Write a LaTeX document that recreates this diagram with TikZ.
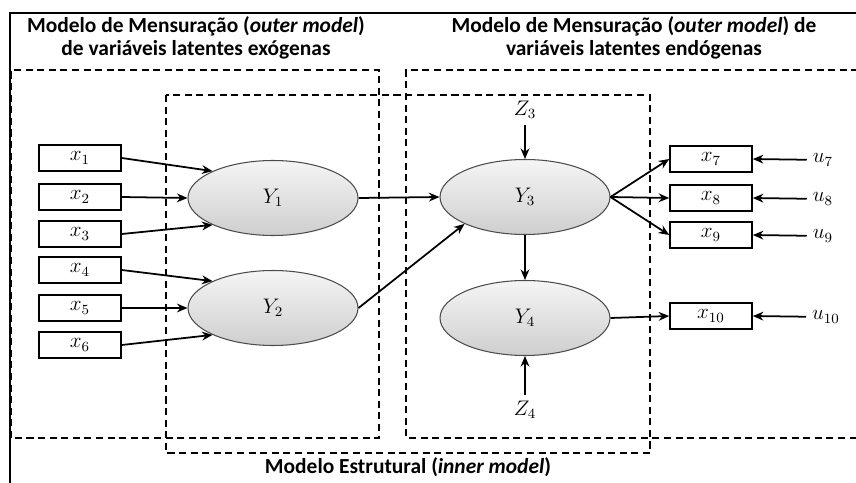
\documentclass[tikz,border=0pt]{standalone}
\usepackage[no-math]{fontspec}
\setmainfont{Carlito}
\usepackage{amsmath}
\usetikzlibrary{arrows.meta,shapes.geometric}

\tikzset{
  obs/.style={draw, line width=0.9pt, minimum width=1.64cm, minimum height=0.52cm, inner sep=0pt, font=\large},
  lat/.style={ellipse, draw=gray!60!black, line width=0.6pt, top color=gray!8, bottom color=gray!38, minimum width=3.4cm, minimum height=1.5cm, font=\large},
  seta/.style={-{Stealth[length=6pt,width=5pt]}, line width=1pt},
  caixa/.style={dash pattern=on 4pt off 2.6pt, line width=1.1pt},
  titulo/.style={font=\fontsize{12.2}{13.2}\selectfont\bfseries, align=center}
}

\begin{document}
\begin{tikzpicture}[x=0.02cm, y=-0.02cm]
    \clip (0,0) rectangle (856,483);
    % moldura e caixas tracejadas
    \draw[line width=0.9pt] (10,490) -- (10,13) -- (870,13);
    \draw[caixa] (11,438) -- (11,70) -- (379,70) -- (379,438) -- cycle;
    \draw[caixa] (870,70) -- (406,70) -- (406,438) -- (870,438);
    \draw[caixa] (166,95) rectangle (650,453);

    % titulos
    \node[titulo] (tleft) at (196,38) {Modelo de Mensuração (\textit{outer model})\\de variáveis latentes exógenas};
    \node[titulo] (tright) at (634,38) {Modelo de Mensuração (\textit{outer model}) de\\variáveis latentes endógenas};
    \node[titulo] (tinner) at (408,467) {Modelo Estrutural (\textit{inner model})};

    % indicadores exogenos
    \node[obs] (x1) at (80,158) {$x_1$};
    \node[obs] (x2) at (80,197) {$x_2$};
    \node[obs] (x3) at (80,234) {$x_3$};
    \node[obs] (x4) at (80,270) {$x_4$};
    \node[obs] (x5) at (80,308) {$x_5$};
    \node[obs] (x6) at (80,345) {$x_6$};

    % variaveis latentes
    \node[lat] (Y1) at (273,198) {$Y_1$};
    \node[lat] (Y2) at (273,308) {$Y_2$};
    \node[lat] (Y3) at (525,197) {$Y_3$};
    \node[lat] (Y4) at (525,318) {$Y_4$};

    \node[font=\large] (Z3) at (525,110) {$Z_3$};
    \node[font=\large] (Z4) at (525,410) {$Z_4$};

    % indicadores endogenos
    \node[obs] (x7) at (711,159) {$x_7$};
    \node[obs] (x8) at (711,198) {$x_8$};
    \node[obs] (x9) at (711,235) {$x_9$};
    \node[obs] (x10) at (711,316) {$x_{10}$};

    \node[font=\large] (u7) at (823,160) {$u_7$};
    \node[font=\large] (u8) at (823,199) {$u_8$};
    \node[font=\large] (u9) at (823,236) {$u_9$};
    \node[font=\large] (u10) at (826,317) {$u_{10}$};

    % setas
    \draw[seta] (x1.east) -- (Y1.north west);
    \draw[seta] (x2.east) -- (Y1.west);
    \draw[seta] (x3.east) -- (Y1.south west);
    \draw[seta] (x4.east) -- (Y2.north west);
    \draw[seta] (x5.east) -- (Y2.west);
    \draw[seta] (x6.east) -- (Y2.south west);
    \draw[seta] (Y1.east) -- (Y3.west);
    \draw[seta] (Y2.east) -- (Y3.south west);
    \draw[seta] (Z3) -- (Y3.north);
    \draw[seta] (Y3.south) -- (Y4.north);
    \draw[seta] (Z4) -- (Y4.south);
    \draw[seta] (Y3.east) -- (x7.west);
    \draw[seta] (Y3.east) -- (x8.west);
    \draw[seta] (Y3.east) -- (x9.west);
    \draw[seta] (Y4.east) -- (x10.west);
    \draw[seta] (u7) -- (x7.east);
    \draw[seta] (u8) -- (x8.east);
    \draw[seta] (u9) -- (x9.east);
    \draw[seta] (u10) -- (x10.east);
\end{tikzpicture}
\end{document}
